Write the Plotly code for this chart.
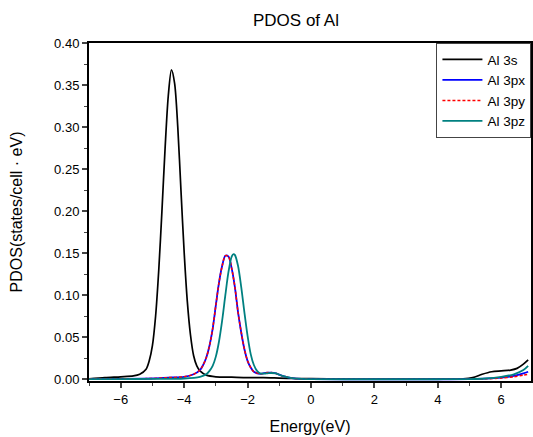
import plotly.graph_objects as go

# Energies (eV) and PDOS values
e_s = [-7.0, -6.5, -6.0, -5.6, -5.4, -5.2, -5.1, -5.0, -4.9, -4.8, -4.7, -4.6, -4.5, -4.4,
       -4.3, -4.2, -4.1, -4.0, -3.9, -3.8, -3.7, -3.6, -3.5, -3.3, -3.0, -2.5, -2.0, -1.5,
       -1.0, -0.5, 0.0, 1.0, 2.0, 3.0, 4.0, 4.8, 5.1, 5.4, 5.7, 6.0, 6.3, 6.5, 6.7, 6.85]
al_3s = [0.0005, 0.002, 0.003, 0.004, 0.006, 0.012, 0.022, 0.040, 0.075, 0.130, 0.200, 0.275,
         0.337, 0.368, 0.352, 0.300, 0.225, 0.152, 0.093, 0.053, 0.028, 0.016, 0.010, 0.005,
         0.003, 0.0025, 0.002, 0.002, 0.0015, 0.001, 0.0008, 0.0005, 0.0003, 0.0003, 0.0003,
         0.0005, 0.002, 0.006, 0.009, 0.010, 0.011, 0.013, 0.018, 0.023]

e_p = [-7.0, -6.0, -5.0, -4.5, -4.0, -3.7, -3.5, -3.4, -3.3, -3.2, -3.1, -3.0, -2.9, -2.8,
       -2.7, -2.6, -2.5, -2.4, -2.3, -2.2, -2.1, -2.0, -1.9, -1.8, -1.6, -1.4, -1.25, -1.1,
       -0.9, -0.6, -0.3, 0.0, 2.0, 4.0, 5.0, 5.5, 6.0, 6.4, 6.7, 6.85]
al_3px = [0.0003, 0.0005, 0.001, 0.002, 0.003, 0.006, 0.011, 0.017, 0.026, 0.040, 0.060,
          0.088, 0.115, 0.135, 0.147, 0.146, 0.132, 0.110, 0.080, 0.056, 0.036, 0.022, 0.014,
          0.009, 0.0065, 0.0078, 0.008, 0.007, 0.004, 0.0015, 0.0005, 0.0002, 0.0001, 0.0001,
          0.0002, 0.0008, 0.002, 0.004, 0.007, 0.009]
al_3py = [0.0003, 0.0005, 0.001, 0.002, 0.003, 0.006, 0.011, 0.017, 0.026, 0.040, 0.060,
          0.088, 0.115, 0.135, 0.147, 0.146, 0.132, 0.110, 0.080, 0.056, 0.036, 0.022, 0.014,
          0.009, 0.0065, 0.0078, 0.008, 0.007, 0.004, 0.0015, 0.0005, 0.0002, 0.0001, 0.0001,
          0.0002, 0.0006, 0.0015, 0.003, 0.005, 0.006]

e_z = [-7.0, -6.0, -5.0, -4.0, -3.5, -3.3, -3.2, -3.1, -3.0, -2.9, -2.8, -2.7, -2.6, -2.5,
       -2.44, -2.4, -2.3, -2.2, -2.1, -2.0, -1.9, -1.8, -1.7, -1.6, -1.4, -1.25, -1.1, -0.9,
       -0.6, -0.3, 0.0, 2.0, 4.0, 5.0, 5.5, 6.0, 6.4, 6.7, 6.85]
al_3pz = [0.0002, 0.0003, 0.0005, 0.001, 0.003, 0.006, 0.010, 0.016, 0.027, 0.045, 0.070,
          0.100, 0.128, 0.146, 0.149, 0.148, 0.135, 0.110, 0.080, 0.052, 0.030, 0.017, 0.010,
          0.007, 0.007, 0.0075, 0.007, 0.004, 0.0015, 0.0005, 0.0002, 0.0001, 0.0001, 0.0003,
          0.001, 0.003, 0.006, 0.011, 0.016]

x_ticks = [-6, -4, -2, 0, 2, 4, 6]
y_ticks = [0.00, 0.05, 0.10, 0.15, 0.20, 0.25, 0.30, 0.35, 0.40]
y_tick_labels = ["0.00", "0.05", "0.10", "0.15", "0.20", "0.25", "0.30", "0.35", "0.40"]

FONT = "Liberation Sans, Arial, sans-serif"

fig = go.Figure()
fig.add_trace(go.Scatter(x=e_s, y=al_3s, name="Al 3s", mode="lines",
                         line=dict(color="#000000", width=1.7, shape="spline", smoothing=0.8)))
fig.add_trace(go.Scatter(x=e_p, y=al_3px, name="Al 3px", mode="lines",
                         line=dict(color="#0000FF", width=1.8, shape="spline", smoothing=0.8)))
fig.add_trace(go.Scatter(x=e_p, y=al_3py, name="Al 3py", mode="lines",
                         line=dict(color="#FF0000", width=1.5, dash="3px,2px", shape="spline", smoothing=0.8)))
fig.add_trace(go.Scatter(x=e_z, y=al_3pz, name="Al 3pz", mode="lines",
                         line=dict(color="#008080", width=1.8, shape="spline", smoothing=0.8)))

fig.update_layout(
    width=533, height=437,
    margin=dict(l=89, r=0, t=43, b=56),
    paper_bgcolor="white", plot_bgcolor="white",
    font=dict(family=FONT, color="#000000"),
    title=dict(text="PDOS of Al", x=296 / 533, xanchor="center",
               y=1 - 20 / 437, yanchor="middle", font=dict(size=17, family=FONT)),
    legend=dict(x=(438 - 89) / 444, xanchor="left", y=1, yanchor="top",
                bgcolor="white", bordercolor="#444444", borderwidth=1,
                font=dict(size=13.5, family=FONT), itemwidth=40, tracegroupgap=0),
    showlegend=True,
)
fig.update_xaxes(
    range=[-7, 6.94], tickvals=x_ticks, ticks="outside", ticklen=5, tickwidth=1.5,
    showgrid=False, zeroline=False, showline=True, linecolor="black", linewidth=2,
    mirror=True, tickfont=dict(size=13, family=FONT),
    minor=dict(tickvals=[-7, -5, -3, -1, 1, 3, 5], ticks="outside", ticklen=3, tickwidth=1.2),
    title=dict(text="Energy(eV)", font=dict(size=16, family=FONT), standoff=15),
)
fig.update_yaxes(
    range=[-0.002, 0.4], tickvals=y_ticks, ticktext=y_tick_labels, ticks="outside",
    ticklen=5, tickwidth=1.5, showgrid=False, zeroline=False, showline=True,
    linecolor="black", linewidth=2, mirror=True, tickfont=dict(size=13, family=FONT),
    minor=dict(tickvals=[0.025, 0.075, 0.125, 0.175, 0.225, 0.275, 0.325, 0.375],
               ticks="outside", ticklen=3, tickwidth=1.2),
    title=dict(text="PDOS(states/cell · eV)", font=dict(size=16, family=FONT), standoff=27),
)

fig.write_html("out.html")
